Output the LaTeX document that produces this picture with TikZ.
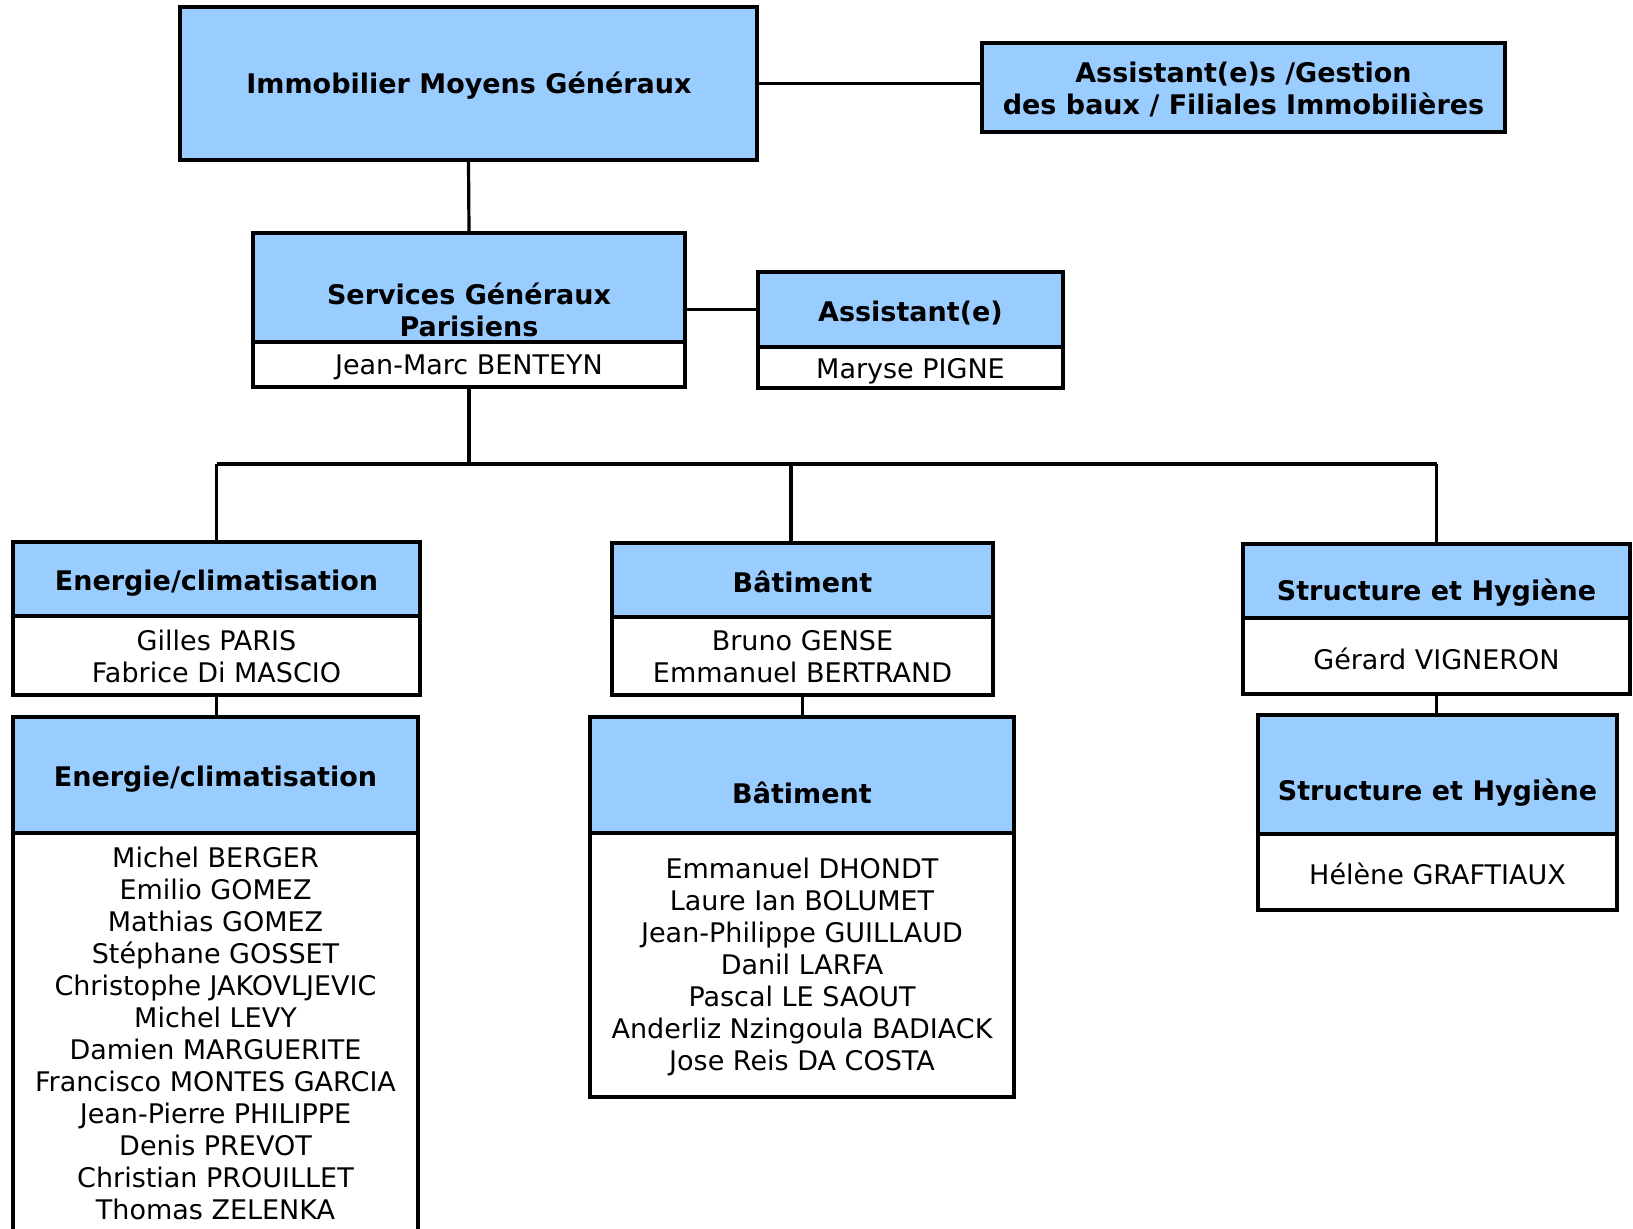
\documentclass[tikz,border=0pt]{standalone}
\usepackage{fontspec}
\setmainfont{DejaVu Sans}
\usetikzlibrary{fit}
\definecolor{hdrblue}{RGB}{153,204,255}
\newcommand\mystrut{\rule[-1.8pt]{0pt}{16pt}}
\begin{document}
\begin{tikzpicture}[x=0.5pt,y=-0.5pt,
  box/.style={draw=black, line width=2pt, inner sep=0pt},
  bluebox/.style={box, fill=hdrblue},
  whitebox/.style={box, fill=white},
  txt/.style={inner sep=0pt, align=center, font=\fontsize{13.5}{16}\selectfont,
    execute at begin node=\mystrut, execute at end node=\mystrut},
  ttl/.style={txt, font=\fontsize{13.5}{16}\selectfont\bfseries},
  link/.style={draw=black, line width=1.6pt}
]
\useasboundingbox[fill=white] (0,0) rectangle (1633,1228);

% boxes
\node[bluebox, fit={(180,7)(757,160)}] (imm) {};
\node[bluebox, fit={(982,43)(1505,132)}] (asg) {};
\node[bluebox, fit={(253,233)(685,342)}] (srvB) {};
\node[whitebox, fit={(253,342)(685,387)}] (srvW) {};
\node[bluebox, fit={(758,272)(1063,347)}] (astB) {};
\node[whitebox, fit={(758,347)(1063,388)}] (astW) {};
\node[bluebox, fit={(13,542)(420,616)}] (en1B) {};
\node[whitebox, fit={(13,616)(420,695)}] (en1W) {};
\node[bluebox, fit={(13,717)(418,833)}] (en2B) {};
\node[whitebox, fit={(13,833)(418,1250)}] (en2W) {};
\node[bluebox, fit={(612,543)(993,617)}] (bat1B) {};
\node[whitebox, fit={(612,617)(993,695)}] (bat1W) {};
\node[bluebox, fit={(590,717)(1014,833)}] (bat2B) {};
\node[whitebox, fit={(590,833)(1014,1097)}] (bat2W) {};
\node[bluebox, fit={(1243,544)(1630,618)}] (str1B) {};
\node[whitebox, fit={(1243,618)(1630,694)}] (str1W) {};
\node[bluebox, fit={(1258,715)(1617,834)}] (str2B) {};
\node[whitebox, fit={(1258,834)(1617,910)}] (str2W) {};

% texts
\node[ttl] (immT) at (469,82.5) {Immobilier Moyens Généraux};
\node[ttl] (asgT) at (1243.5,90) {Assistant(e)s /Gestion\\des baux / Filiales Immobilières};
\node[ttl] (srvT) at (469,311) {Services Généraux\\Parisiens};
\node[txt] (srvN) at (469,363) {Jean-Marc BENTEYN};
\node[ttl] (astT) at (910.5,309) {Assistant(e)};
\node[txt] (astN) at (910.5,367) {Maryse PIGNE};
\node[ttl] (en1T) at (216.5,579) {Energie/climatisation};
\node[txt] (en1N) at (216.5,658) {Gilles PARIS\\Fabrice Di MASCIO};
\node[ttl] (en2T) at (215.5,775.5) {Energie/climatisation};
\node[txt] (en2N) at (215.5,1035) {Michel BERGER\\Emilio GOMEZ\\Mathias GOMEZ\\Stéphane GOSSET\\Christophe JAKOVLJEVIC\\Michel LEVY\\Damien MARGUERITE\\Francisco MONTES GARCIA\\Jean-Pierre PHILIPPE\\Denis PREVOT\\Christian PROUILLET\\Thomas ZELENKA};
\node[ttl] (bat1T) at (802.5,580) {Bâtiment};
\node[txt] (bat1N) at (802.5,658) {Bruno GENSE\\Emmanuel BERTRAND};
\node[ttl] (bat2T) at (802,791) {Bâtiment};
\node[txt] (bat2N) at (802,967) {Emmanuel DHONDT\\Laure Ian BOLUMET\\Jean-Philippe GUILLAUD\\Danil LARFA\\Pascal LE SAOUT\\Anderliz Nzingoula BADIACK\\Jose Reis DA COSTA};
\node[ttl] (str1T) at (1436.5,589) {Structure et Hygiène};
\node[txt] (str1N) at (1436.5,657) {Gérard VIGNERON};
\node[ttl] (str2T) at (1437.5,789) {Structure et Hygiène};
\node[txt] (str2N) at (1437.5,872) {Hélène GRAFTIAUX};

% connectors
\coordinate (bus) at (469,464);
\coordinate (batJ) at (791,464);
\draw[link] (imm.south) -- (srvB.north);
\draw[link] (imm.east) -- (imm.east -| asg.west);
\draw[link] (astB.west -| srvB.east) -- (astB.west);
\draw[link] (srvW.south) -- (bus);
\draw[link] (en1B.north |- bus) -- (str1B.north |- bus);
\draw[link] (en1B.north |- bus) -- (en1B.north);
\draw[link] (batJ) -- (batJ |- bat1B.north);
\draw[link] (str1B.north |- bus) -- (str1B.north);
\draw[link] (en1W.south) -- (en1W.south |- en2B.north);
\draw[link] (bat1W.south) -- (bat1W.south |- bat2B.north);
\draw[link] (str1W.south) -- (str1W.south |- str2B.north);
\end{tikzpicture}
\end{document}
